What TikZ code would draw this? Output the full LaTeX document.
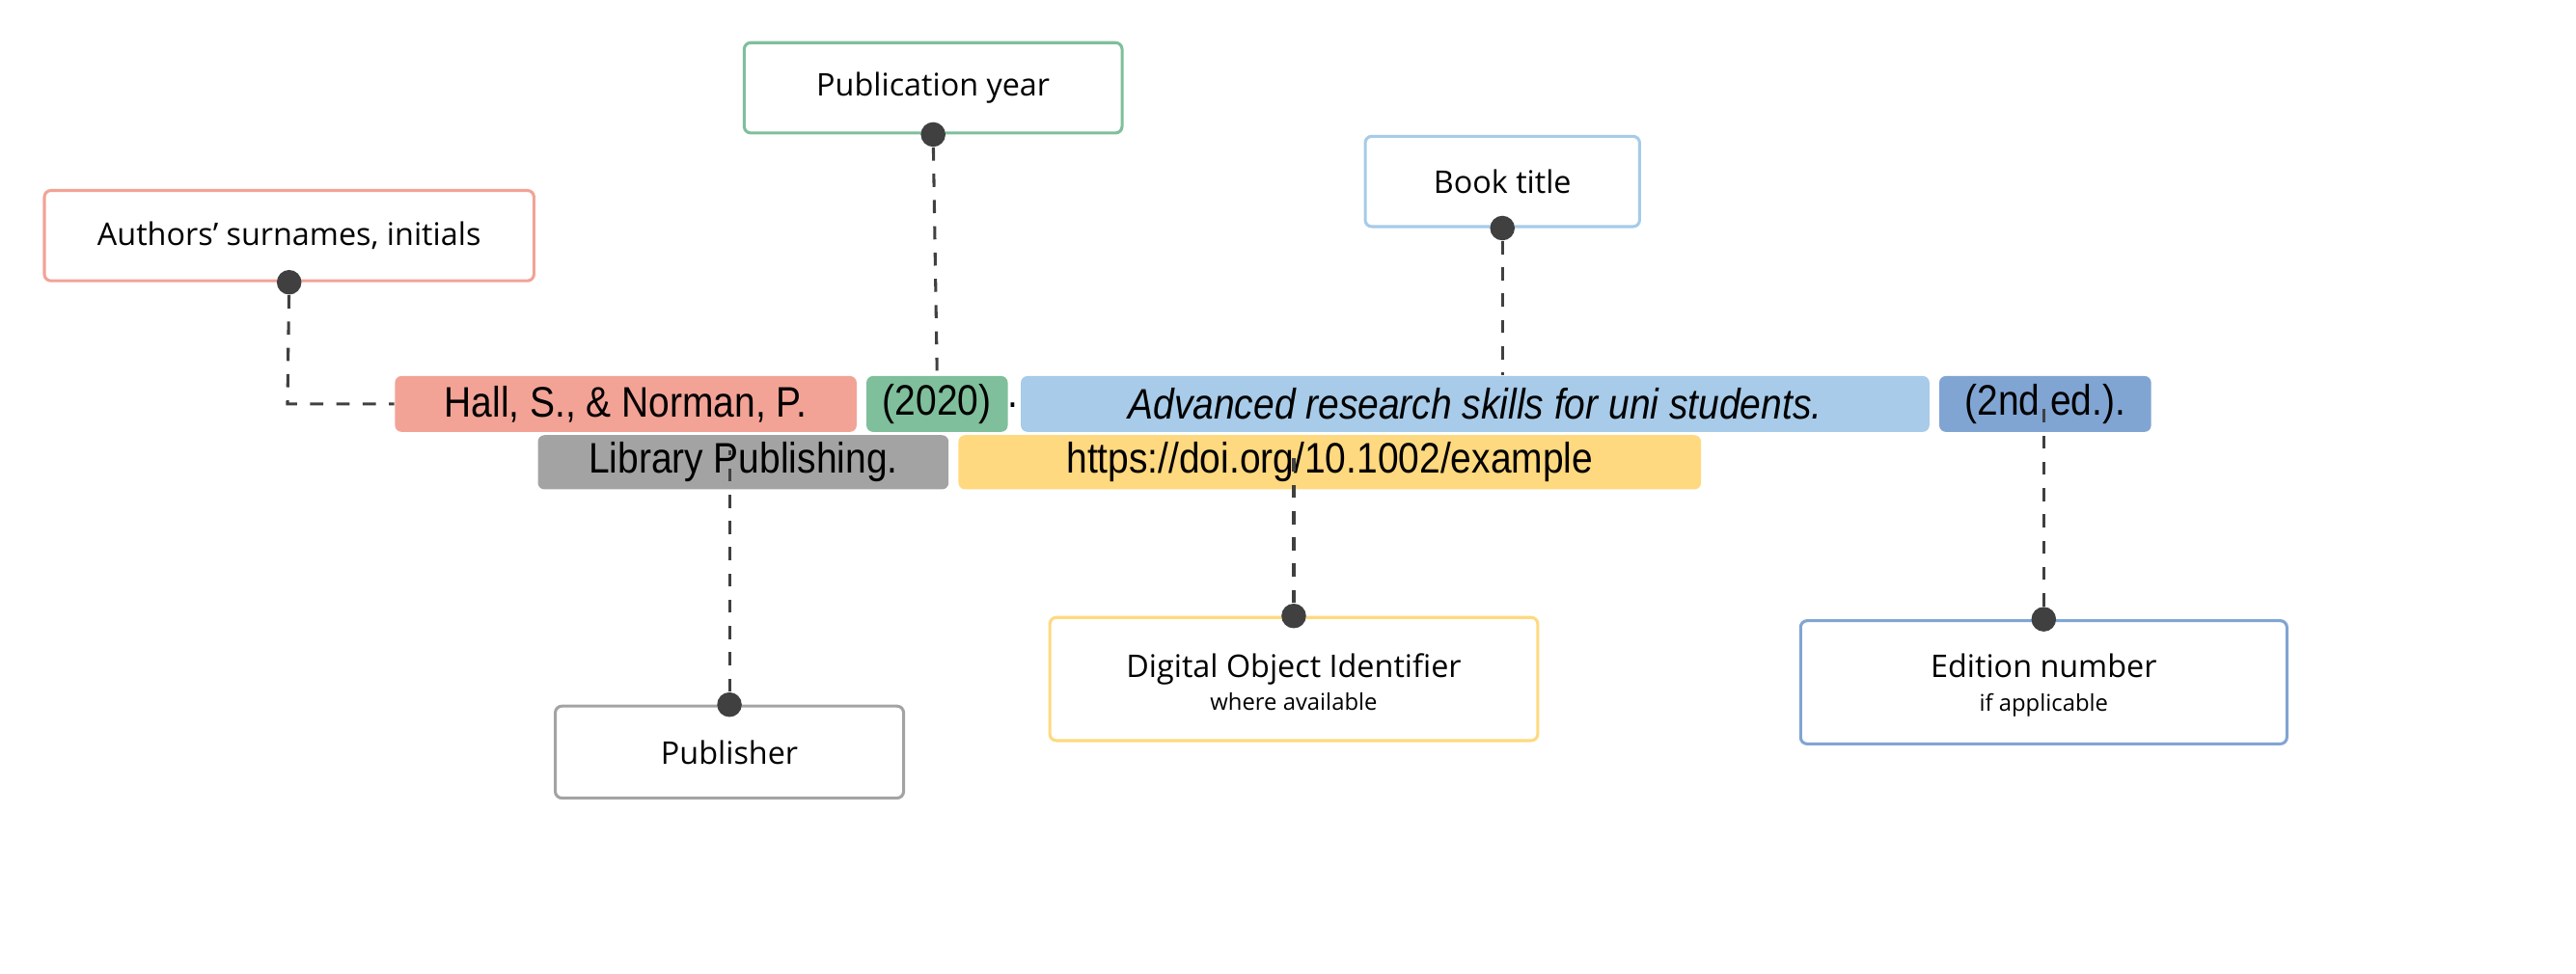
\documentclass[tikz,border=0pt]{standalone}
\usepackage{fontspec}
\setmainfont{Open Sans}
\newfontfamily\reff[FakeStretch=0.88]{Liberation Sans}
\definecolor{cred}{HTML}{F2A396}
\definecolor{cgreen}{HTML}{7FBF9B}
\definecolor{cblue}{HTML}{A7CBE8}
\definecolor{cdblue}{HTML}{81A5D3}
\definecolor{cgray}{HTML}{A3A3A3}
\definecolor{cyel}{HTML}{FFD97F}
\definecolor{cline}{HTML}{404040}
\begin{document}
\begin{tikzpicture}[x=0.5pt,y=-0.5pt,
  hl/.style={anchor=west,rounded corners=2pt,inner xsep=3pt,inner ysep=0pt,align=left,font=\reff\fontsize{13}{15}\selectfont,minimum height=17pt},
  lab/.style={draw,line width=0.9pt,rounded corners=2pt,fill=white,font=\fontsize{9.5}{11}\selectfont,align=center,inner sep=0pt},
  dl/.style={draw=cline,line width=0.9pt,dash pattern=on 4pt off 4pt},
  dot/.style={circle,fill=cline,inner sep=0pt,minimum size=7.5pt}]
\useasboundingbox (0,0) rectangle (1568,593);
% labels
\node[lab,draw=cred,minimum width=149pt,minimum height=27.5pt] (auth) at (176,143.5) {Authors’ surnames, initials};
\node[lab,draw=cgreen,minimum width=115pt,minimum height=27.5pt] (year) at (568,53.5) {Publication year};
\node[lab,draw=cblue,minimum width=83.5pt,minimum height=27.5pt] (title) at (914.5,110.5) {Book title};
\node[lab,draw=cgray,minimum width=106pt,minimum height=28pt] (pub) at (444,458) {Publisher};
\node[lab,draw=cyel,minimum width=148.5pt,minimum height=37.5pt] (doi) at (787.5,413.5) {\rule{0pt}{9pt}Digital Object Identifier\\[-1pt]{\fontsize{7}{8}\selectfont where available}};
\node[lab,draw=cdblue,minimum width=148pt,minimum height=37.5pt] (ed) at (1244,415.5) {\rule{0pt}{9pt}Edition number\\[-1pt]{\fontsize{7}{8}\selectfont if applicable}};
% highlights
\node[hl,fill=cred,minimum width=140.5pt] (hall) at (240,246) {Hall, S., \& Norman, P.};
\node[hl,fill=cgreen,minimum width=43pt] (yr) at (527,246) {(2020)};
\node[anchor=west,inner sep=0pt,font=\reff\fontsize{13}{15}\selectfont] (p1) at (613,247) {.};
\node[hl,fill=cblue,minimum width=276.5pt] (bt) at (621,246) {\itshape Advanced research skills for uni students.};
\node[hl,fill=cdblue,minimum width=64.5pt] (edn) at (1180,246) {(2nd ed.).};
\node[hl,fill=cgray,minimum width=125pt,minimum height=16.5pt] (lp) at (327,281.5) {Library Publishing.};
\node[hl,fill=cyel,minimum width=226pt,minimum height=16.5pt] (url) at (583,281.5) {https://doi.org/10.1002/example};
% dots
\node[dot] (d1) at (auth.south) {};
\node[dot] (d2) at (year.south) {};
\node[dot] (d3) at (title.south) {};
\node[dot] (d4) at (pub.north) {};
\node[dot] (d5) at (doi.north) {};
\node[dot] (d6) at (ed.north) {};
\coordinate (c1) at (175,246);
\path[dl] (d1) -- (c1) -- (hall.west);
\path[dl] (d2) -- (yr.north);
\path[dl] (d3) -- (bt.north -| d3);
\path[dl] (d4) -- (lp.south -| d4) ++(0,12);
\path[dl] (d4) -- ([yshift=12]lp.south -| d4);
\path[dl] (d5) -- ([yshift=12]url.south -| d5);
\path[dl] (d6) -- ([yshift=8]edn.south -| d6);
\end{tikzpicture}
\end{document}
